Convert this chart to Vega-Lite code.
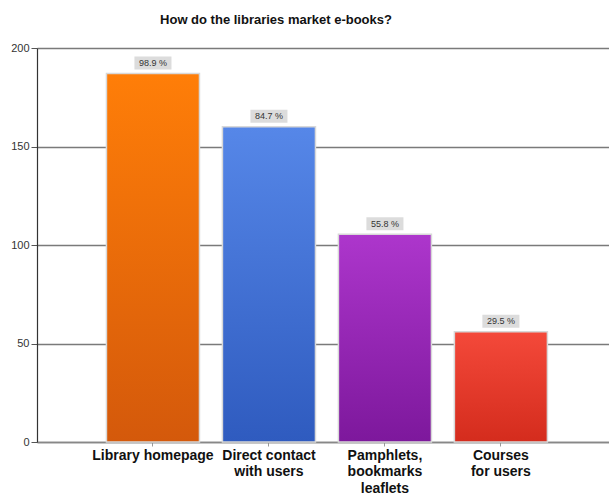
{
  "$schema": "https://vega.github.io/schema/vega-lite/v6.json",
  "autosize": {"type": "none"},
  "width": 572,
  "height": 394,
  "padding": {"left": 37, "top": 48, "right": 0, "bottom": 53},
  "background": "white",
  "title": {
    "text": "How do the libraries market e-books?",
    "font": "Liberation Sans",
    "fontSize": 13,
    "fontWeight": "bold",
    "color": "#111",
    "anchor": "middle",
    "dx": -47,
    "offset": 15
  },
  "config": {
    "view": {"stroke": null},
    "font": "Liberation Sans"
  },
  "data": {
    "values": [
      {"category": "Library homepage", "count": 187, "pct": "98.9 %"},
      {"category": "Direct contact with users", "count": 160, "pct": "84.7 %"},
      {"category": "Pamphlets, bookmarks leaflets", "count": 105.5, "pct": "55.8 %"},
      {"category": "Courses for users", "count": 56, "pct": "29.5 %"}
    ]
  },
  "encoding": {
    "x": {
      "field": "category",
      "type": "nominal",
      "sort": null,
      "scale": {"paddingInner": 0.198, "paddingOuter": 0.565, "align": 0.53},
      "axis": {
        "title": null,
        "labelAngle": 0,
        "labelFont": "Liberation Sans",
        "labelFontSize": 14,
        "labelFontWeight": "bold",
        "labelColor": "#111",
        "labelPadding": 2,
        "labelLineHeight": 16.5,
        "labelBaseline": "top",
        "labelExpr": "datum.value == 'Library homepage' ? 'Library homepage' : datum.value == 'Direct contact with users' ? ['Direct contact', 'with users'] : datum.value == 'Pamphlets, bookmarks leaflets' ? ['Pamphlets,', 'bookmarks', 'leaflets'] : ['Courses', 'for users']",
        "domainColor": "#888",
        "domainWidth": 1.5,
        "tickColor": "#999",
        "tickSize": 4,
        "labelLimit": 200,
        "grid": false
      }
    },
    "y": {
      "field": "count",
      "type": "quantitative",
      "scale": {"domain": [0, 200], "nice": false},
      "axis": {
        "title": null,
        "values": [0, 50, 100, 150, 200],
        "labelFont": "Liberation Sans",
        "labelFontSize": 11,
        "labelColor": "#333",
        "labelPadding": 2,
        "tickSize": 6,
        "tickColor": "#555",
        "domainColor": "#333",
        "domainWidth": 1.2,
        "grid": true,
        "gridColor": "#7a7a7a",
        "gridWidth": 1.5,
        "gridOpacity": 1
      }
    }
  },
  "layer": [
    {
      "transform": [{"filter": "datum.category == 'Library homepage'"}],
      "mark": {"type": "bar", "stroke": "#d8d8d8", "strokeWidth": 1.5,
        "fill": {"x1": 0, "y1": 0, "x2": 0, "y2": 1, "gradient": "linear",
          "stops": [{"offset": 0, "color": "#ff7e08"}, {"offset": 1, "color": "#d4590b"}]}}
    },
    {
      "transform": [{"filter": "datum.category == 'Direct contact with users'"}],
      "mark": {"type": "bar", "stroke": "#d8d8d8", "strokeWidth": 1.5,
        "fill": {"x1": 0, "y1": 0, "x2": 0, "y2": 1, "gradient": "linear",
          "stops": [{"offset": 0, "color": "#5687e8"}, {"offset": 1, "color": "#2f5bbf"}]}}
    },
    {
      "transform": [{"filter": "datum.category == 'Pamphlets, bookmarks leaflets'"}],
      "mark": {"type": "bar", "stroke": "#d8d8d8", "strokeWidth": 1.5,
        "fill": {"x1": 0, "y1": 0, "x2": 0, "y2": 1, "gradient": "linear",
          "stops": [{"offset": 0, "color": "#ad36cc"}, {"offset": 1, "color": "#7d189c"}]}}
    },
    {
      "transform": [{"filter": "datum.category == 'Courses for users'"}],
      "mark": {"type": "bar", "stroke": "#d8d8d8", "strokeWidth": 1.5,
        "fill": {"x1": 0, "y1": 0, "x2": 0, "y2": 1, "gradient": "linear",
          "stops": [{"offset": 0, "color": "#f4493a"}, {"offset": 1, "color": "#d42c1d"}]}}
    },
    {
      "mark": {"type": "point", "shape": "M-2.85,-1H2.85V1H-2.85Z", "size": 169, "filled": true, "fill": "#dcdcdc", "opacity": 1, "strokeWidth": 0, "yOffset": -10.5}
    },
    {
      "mark": {"type": "text", "fontSize": 9, "color": "#333", "yOffset": -10.5, "baseline": "middle", "align": "center", "font": "Liberation Sans", "letterSpacing": -0.3},
      "encoding": {"text": {"field": "pct"}}
    }
  ]
}
